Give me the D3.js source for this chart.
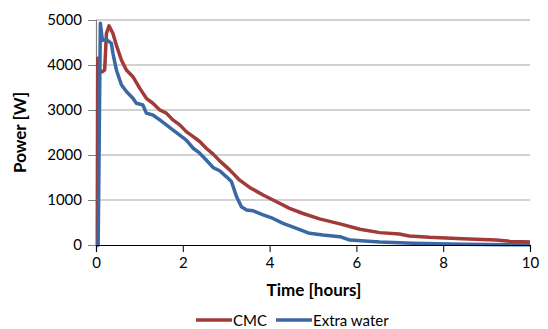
<!DOCTYPE html>
<html>
<head>
<meta charset="utf-8">
<script src="https://cdn.jsdelivr.net/npm/d3@7"></script>
<style>
  html, body { margin: 0; padding: 0; background: #fff; }
  svg { display: block; font-family: Lato, "Open Sans", sans-serif; }
</style>
</head>
<body>
<svg id="chart" width="548" height="329"></svg>
<script>
// Power output over time for two mixtures
const cmcHours  = [0.0, 0.03, 0.04, 0.09, 0.15, 0.20, 0.24, 0.30, 0.39, 0.47, 0.585, 0.70, 0.85, 1.01, 1.16, 1.31, 1.47, 1.62, 1.77, 1.93, 2.08, 2.24, 2.39, 2.54, 2.70, 2.85, 3.08, 3.31, 3.54, 3.85, 4.16, 4.46, 4.77, 5.15, 5.62, 6.08, 6.54, 6.99, 7.22, 7.68, 8.45, 9.22, 9.53, 10.0];
const cmcPower  = [0, 0, 4150, 3850, 3850, 3890, 4700, 4870, 4700, 4440, 4110, 3890, 3740, 3480, 3260, 3150, 3000, 2930, 2780, 2670, 2520, 2410, 2300, 2150, 2020, 1870, 1670, 1440, 1280, 1110, 960, 815, 700, 580, 470, 350, 275, 245, 200, 170, 140, 110, 82, 67];

const waterHours = [0.0, 0.05, 0.10, 0.147, 0.25, 0.355, 0.39, 0.47, 0.585, 0.70, 0.85, 0.93, 1.08, 1.16, 1.31, 1.47, 1.62, 1.77, 1.93, 2.08, 2.24, 2.39, 2.54, 2.70, 2.85, 3.00, 3.12, 3.24, 3.35, 3.47, 3.62, 3.85, 4.08, 4.31, 4.62, 4.92, 5.23, 5.62, 5.85, 6.54, 7.30, 8.45, 10.0];
const waterPower = [0, 0, 4930, 4550, 4560, 4480, 4260, 3890, 3560, 3410, 3260, 3150, 3110, 2930, 2890, 2780, 2670, 2560, 2440, 2330, 2150, 2040, 1890, 1720, 1650, 1520, 1410, 1070, 850, 780, 760, 670, 590, 480, 370, 260, 220, 185, 110, 67, 38, 15, 5];

const xTicks = [0, 2, 4, 6, 8, 10];
const yTicks = [0, 1000, 2000, 3000, 4000, 5000];
const seriesNames = ["CMC", "Extra water"];
const seriesColors = ["#A03B38", "#3B67A3"];

const svg = d3.select("#chart");
const plotLeft = 96, plotRight = 530, plotTop = 20, plotBottom = 245;

const x = d3.scaleLinear().domain([0, 10]).range([plotLeft, plotRight]);
const y = d3.scaleLinear().domain([0, 5000]).range([plotBottom, plotTop]);

// horizontal gridlines
svg.append("g").selectAll("line")
  .data(yTicks.filter(d => d > 0))
  .join("line")
  .attr("x1", plotLeft).attr("x2", plotRight)
  .attr("y1", d => y(d)).attr("y2", d => y(d))
  .attr("stroke", "#A6A6A6").attr("stroke-width", 1.2);

// y axis
const yAxis = svg.append("g")
  .attr("transform", `translate(${plotLeft},0)`)
  .call(d3.axisLeft(y).tickValues(yTicks).tickSize(8).tickPadding(6).tickFormat(d3.format("d")));
yAxis.select(".domain").attr("stroke", "#808080").attr("stroke-width", 1.2);
yAxis.selectAll(".tick line").attr("stroke", "#808080");
yAxis.selectAll("text").attr("font-size", 15).attr("fill", "#000")
  .attr("font-family", "Lato, sans-serif");

// series lines
const series = [
  { hours: cmcHours, power: cmcPower },
  { hours: waterHours, power: waterPower }
];
const line = d3.line().x(d => x(d[0])).y(d => y(d[1]));
series.forEach((s, i) => {
  svg.append("path")
    .datum(s.hours.map((h, k) => [h, s.power[k]]))
    .attr("d", line)
    .attr("fill", "none")
    .attr("stroke", seriesColors[i])
    .attr("stroke-width", 3.5)
    .attr("stroke-linejoin", "round");
});

// x axis
const xAxis = svg.append("g")
  .attr("transform", `translate(0,${plotBottom})`)
  .call(d3.axisBottom(x).tickValues(xTicks).tickSize(7).tickPadding(5).tickFormat(d3.format("d")));
xAxis.select(".domain").attr("stroke", "#000").attr("stroke-width", 1.2);
xAxis.selectAll(".tick line").attr("stroke", "#000");
xAxis.selectAll("text").attr("font-size", 15).attr("fill", "#000")
  .attr("font-family", "Lato, sans-serif");

// axis titles
svg.append("text")
  .attr("x", (plotLeft + plotRight) / 2 + 1).attr("y", 296)
  .attr("text-anchor", "middle")
  .attr("font-size", 17).attr("font-weight", "bold")
  .text("Time [hours]");

svg.append("text")
  .attr("transform", `translate(26,${(plotTop + plotBottom) / 2}) rotate(-90)`)
  .attr("text-anchor", "middle")
  .attr("font-size", 17).attr("font-weight", "bold")
  .text("Power [W]");

// legend
const legendItems = [
  { name: seriesNames[0], color: seriesColors[0], x0: 196 },
  { name: seriesNames[1], color: seriesColors[1], x0: 276 }
];
const lg = svg.append("g");
legendItems.forEach(it => {
  lg.append("line")
    .attr("x1", it.x0).attr("x2", it.x0 + 36)
    .attr("y1", 320).attr("y2", 320)
    .attr("stroke", it.color).attr("stroke-width", 3.5);
  lg.append("text")
    .attr("x", it.x0 + 37).attr("y", 325.5)
    .attr("font-size", 15)
    .text(it.name);
});
</script>
</body>
</html>
